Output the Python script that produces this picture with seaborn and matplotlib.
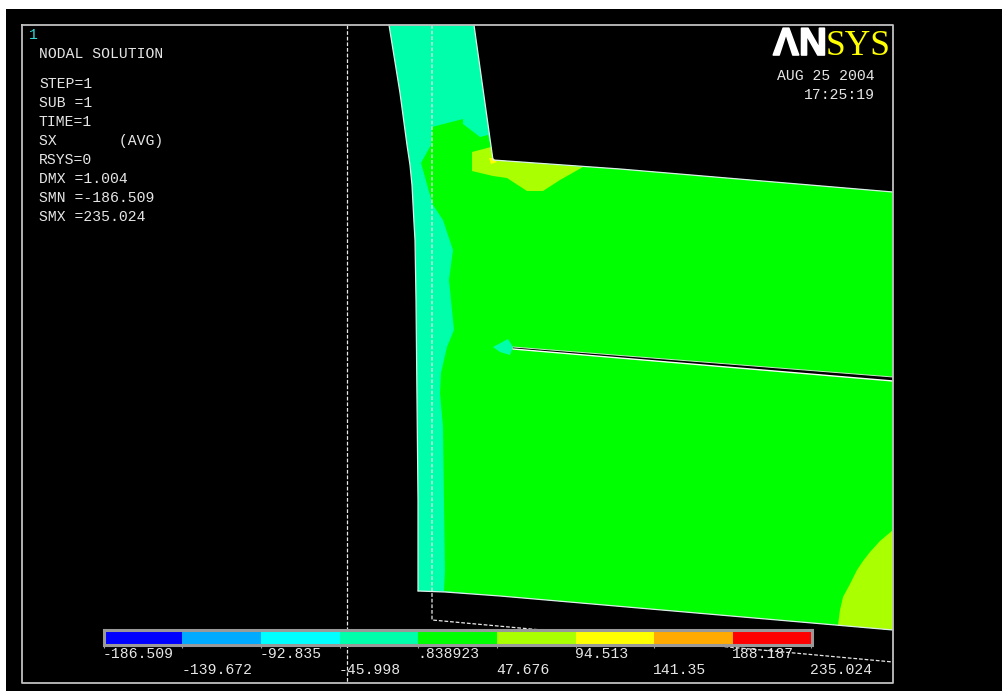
import numpy as np
import matplotlib
matplotlib.use("Agg")
import matplotlib.pyplot as plt
import matplotlib.patheffects as pe
from matplotlib.colors import ListedColormap
from matplotlib.transforms import ScaledTranslation
import seaborn as sns

# ----- contour legend -----
levels = [-186.509, -139.672, -92.835, -45.998, 0.838923, 47.676, 94.513, 141.35, 188.187, 235.024]
level_labels = ["-186.509", "-139.672", "-92.835", "-45.998", ".838923",
                "47.676", "94.513", "141.35", "188.187", "235.024"]
band_colors = ["#0000ff", "#00aaff", "#00ffff", "#00ffaa", "#00ff00",
               "#aaff00", "#ffff00", "#ffaa00", "#ff0000"]

info_lines = ["STEP=1", "SUB =1", "TIME=1", "SX       (AVG)", "RSYS=0",
              "DMX =1.004", "SMN =-186.509", "SMX =235.024"]
info_rows = [84, 103, 122, 141, 160, 179, 198, 217]

# ----- model outlines (image pixels) -----
left_edge = [(389, 25), (400, 93), (407, 145), (410, 165), (412, 185), (414, 223), (415, 240),
             (416, 300), (417, 400), (418, 500), (418, 591)]
bottom_edge = [(418, 591), (445, 592), (500, 596), (893, 630)]
top_edge = [(893, 192), (620, 169), (493, 160), (474, 25)]

green_region = [(432, 127), (463, 119), (463, 124), (480, 137), (488, 135), (491, 147), (493, 160),
                (620, 169), (893, 192), (893, 630), (500, 596), (444, 591), (445, 570), (444, 503),
                (443, 427), (440, 393), (441, 373), (447, 347), (454, 330), (449, 280), (453, 250),
                (443, 220), (433, 205), (430, 195), (421, 163), (431, 145)]
lime_corner = [(472, 152), (491, 147), (493, 160), (583, 167), (560, 180), (543, 191),
               (527, 191), (507, 178), (493, 176), (472, 171)]
yellow_corner = [(489, 158), (493, 158), (497, 162), (491, 164)]
lime_bottom = [(893, 530), (880, 541), (870, 552), (863, 561), (857, 570), (850, 584), (843, 597),
               (840, 610), (838, 625), (893, 630)]
crack_tip = [(493, 347), (508, 339), (513, 347), (510, 355), (500, 352)]
crack_top = [(513, 347), (893, 377)]
crack_low = [(513, 349), (893, 381)]

undeformed_a = [(347, 25), (347, 683)]
undeformed_b = [(432, 25), (432, 620), (893, 662)]

fig_w, fig_h = 1002, 691
sns.set_style("white")
plt.rcParams["font.family"] = ["Liberation Mono", "DejaVu Sans Mono"]

fig = plt.figure(figsize=(fig_w / 100, fig_h / 100), dpi=100, facecolor="white")
ax = fig.add_axes([6 / fig_w, 0, (fig_w - 6) / fig_w, (fig_h - 9) / fig_h])
ax.set_facecolor("black")
ax.set_xlim(6, fig_w)
ax.set_ylim(fig_h, 9)
ax.set_xticks([])
ax.set_yticks([])
for s in ax.spines.values():
    s.set_visible(False)


def xy(pts):
    return np.array(pts)[:, 0], np.array(pts)[:, 1]


# model
model = left_edge + bottom_edge[1:] + top_edge
ax.fill(*xy(model), color=band_colors[3], lw=0, zorder=2)
ax.fill(*xy(green_region), color=band_colors[4], lw=0, zorder=3)
ax.fill(*xy(lime_corner), color=band_colors[5], lw=0, zorder=4)
ax.fill(*xy(yellow_corner), color=band_colors[6], lw=0, zorder=5)
ax.fill(*xy(lime_bottom), color=band_colors[5], lw=0, zorder=4)
ax.fill(*xy(crack_tip), color=band_colors[3], lw=0, zorder=5)
ax.fill(*xy(crack_top + crack_low[::-1]), color="black", lw=0, zorder=6)
ax.plot(*xy(crack_low), color="white", lw=1.0, zorder=7)
ax.plot(*xy(crack_top), color="#c8e8c8", lw=0.7, zorder=7)

for edge in [left_edge, bottom_edge, top_edge]:
    ax.plot(*xy(edge), color="#dcefe8", lw=0.9, zorder=6)

# undeformed shape
for line in [undeformed_a, undeformed_b]:
    ax.plot(*xy(line), color="#e8e8e8", lw=0.9, ls=(0, (3, 1.5)), zorder=8)

# window frame
ax.plot([22, 893, 893, 22, 22], [25, 25, 683, 683, 25], color="#c0c0c0", lw=1.3, zorder=9)

# text block
ax.text(29, 35, "1", color="#35d5d5", fontsize=10.6, va="center", zorder=10)
ax.text(39, 54, "NODAL SOLUTION", color="#e6e6e6", fontsize=10.6, va="center", zorder=10)
for row, line in zip(info_rows, info_lines):
    ax.text(39, row, line, color="#e6e6e6", fontsize=10.6, va="center", zorder=10)
ax.text(875, 76, "AUG 25 2004", color="#e6e6e6", fontsize=10.6, va="center", ha="right", zorder=10)
ax.text(875, 95, "17:25:19", color="#e6e6e6", fontsize=10.6, va="center", ha="right", zorder=10)

# logo
ax.text(827, 55, "ΛN", color="white", fontsize=28, fontweight="bold", family="Liberation Sans",
        ha="right", va="baseline", zorder=10,
        path_effects=[pe.withStroke(linewidth=1.2, foreground="white")])
ax.text(891, 55, "SYS", color="#ffff00", fontsize=25.5, family="Liberation Serif",
        ha="right", va="baseline", zorder=10)

# contour legend bar
cb_ax = fig.add_axes([103.5 / fig_w, 1 - 644.5 / fig_h, 708 / fig_w, 15 / fig_h])
band_values = np.arange(len(band_colors)).reshape(1, -1)
sns.heatmap(band_values, ax=cb_ax, cmap=ListedColormap(band_colors), cbar=False,
            xticklabels=False, yticklabels=False)
for s in cb_ax.spines.values():
    s.set_visible(True)
    s.set_color("#999999")
    s.set_linewidth(2.2)
cb_ax.set_xticks(np.arange(len(levels)))
cb_ax.set_xticklabels(level_labels, ha="left", color="#e6e6e6", fontsize=10.6)
cb_ax.tick_params(axis="x", length=2, width=0.8, color="#9a9a9a", bottom=True)
nudge = ScaledTranslation(-1 / 100, 0, fig.dpi_scale_trans)
for i, tick in enumerate(cb_ax.xaxis.get_major_ticks()):
    tick.set_pad(0 if i % 2 == 0 else 11)
for label in cb_ax.get_xticklabels():
    label.set_transform(label.get_transform() + nudge)

fig.savefig("out.png", dpi=100, facecolor="white")
